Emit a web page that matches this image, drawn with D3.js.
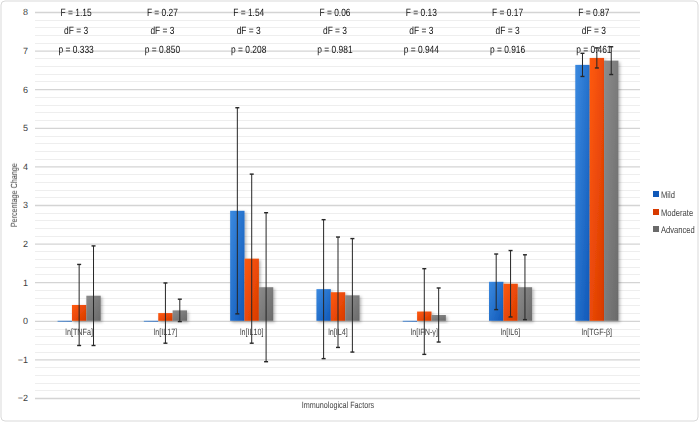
<!DOCTYPE html>
<html><head><meta charset="utf-8">
<script src="https://cdn.jsdelivr.net/npm/d3@7"></script>
<style>
html,body{margin:0;padding:0;background:#fff;}
svg{display:block;font-family:"Liberation Sans",Arial,sans-serif;}
text{text-rendering:geometricPrecision;}
</style></head><body>
<svg id="chart" width="700" height="424"></svg>
<script>
const categories = ["ln[TNFa]","ln[IL17]","ln[IL10]","ln[IL4]","ln[IFN-γ]","ln[IL6]","ln[TGF-β]"];
const seriesNames = ["Mild","Moderate","Advanced"];
const mild      = [0, 0, 2.85, 0.82, 0, 1.01, 6.63];
const moderate  = [0.41, 0.20, 1.61, 0.74, 0.24, 0.96, 6.81];
const advanced  = [0.65, 0.27, 0.87, 0.66, 0.15, 0.87, 6.74];
const mildErr     = [null, null, 2.67, 1.80, null, 0.72, 0.30];
const moderateErr = [1.05, 0.78, 2.19, 1.43, 1.11, 0.86, 0.26];
const advancedErr = [1.29, 0.29, 1.93, 1.47, 0.70, 0.84, 0.36];
const fValues  = ["1.15","0.27","1.54","0.06","0.13","0.17","0.87"];
const dfValues = ["3","3","3","3","3","3","3"];
const pValues  = ["0.333","0.850","0.208","0.981","0.944","0.916","0.461"];
const yTicks = [-2,-1,0,1,2,3,4,5,6,7,8];

const seriesValues = [mild, moderate, advanced];
const seriesErrs = [mildErr, moderateErr, advancedErr];
const colors = [["#3b8ae0","#1058b8"],["#ff5a10","#d83a00"],["#8c8c8c","#6a6a6a"]];

const svg = d3.select("#chart");
const pLeft = 36, pRight = 640, pTop = 12, pBottom = 398;
const SX = 0.8; // horizontal condensing to mimic a narrow font

function label(parent, x, yy, txt, size, anchor, fill, rot) {
  return parent.append("text")
    .attr("transform", `translate(${x},${yy})${rot ? " rotate(" + rot + ")" : ""} scale(${SX},1)`)
    .attr("text-anchor", anchor).attr("font-size", size).attr("fill", fill).text(txt);
}

// outer border
svg.append("rect").attr("x",1).attr("y",1).attr("width",697).attr("height",420)
  .attr("rx",4).attr("fill","#fff").attr("stroke","#d9d9d9").attr("stroke-width",1);

const defs = svg.append("defs");
colors.forEach((c,i)=>{
  const g = defs.append("linearGradient").attr("id","g"+i)
    .attr("x1","0").attr("y1","0").attr("x2","1").attr("y2","1");
  g.append("stop").attr("offset","0").attr("stop-color",c[0]);
  g.append("stop").attr("offset","1").attr("stop-color",c[1]);
});
const f = defs.append("filter").attr("id","sh").attr("x","-20%").attr("y","-20%").attr("width","160%").attr("height","160%");
f.append("feDropShadow").attr("dx",1.5).attr("dy",1.5).attr("stdDeviation",1.5).attr("flood-color","#000").attr("flood-opacity",0.3);

const y = d3.scaleLinear().domain([-2,8]).range([pBottom, pTop]);
const x0 = d3.scaleBand().domain(categories).range([pLeft, pRight]).paddingInner(0).paddingOuter(0);
const x1 = d3.scaleBand().domain(seriesNames).range([x0.bandwidth()/4, x0.bandwidth()*3/4]);

// minor gridlines
const minor = d3.range(-2, 8.001, 0.2).filter(v => Math.abs(v - Math.round(v)) > 1e-6);
svg.append("g").selectAll("line").data(minor).join("line")
  .attr("x1",pLeft-1).attr("x2",pRight).attr("y1",d=>Math.round(y(d))+0.5).attr("y2",d=>Math.round(y(d))+0.5)
  .attr("stroke","#eeeeee").attr("stroke-width",1);

// major axis via d3 axis
const yAxis = d3.axisLeft(y).tickValues(yTicks).tickSize(-(pRight-pLeft+1)).tickFormat(d3.format("d"));
const ga = svg.append("g").attr("transform",`translate(${pLeft-1},0)`).call(yAxis);
ga.select(".domain").remove();
ga.selectAll(".tick line").attr("stroke","#d4d4d4").attr("stroke-width",1.3);
ga.selectAll(".tick text").attr("x",-7).attr("fill","#404040").attr("font-size",9)
  .attr("font-family","'Liberation Sans',Arial,sans-serif");

// bars
const groups = svg.append("g").selectAll("g").data(categories).join("g")
  .attr("transform",d=>`translate(${x0(d)},0)`);
seriesNames.forEach((s,si)=>{
  groups.append("rect")
    .attr("x",x1(s)).attr("width",x1.bandwidth())
    .attr("y",(d,i)=>y(Math.max(0,seriesValues[si][i])))
    .attr("height",(d,i)=>Math.max(0.8, Math.abs(y(seriesValues[si][i])-y(0))))
    .attr("fill",`url(#g${si})`).attr("filter","url(#sh)");
});
// error bars
seriesNames.forEach((s,si)=>{
  groups.each(function(d,i){
    const e = seriesErrs[si][i];
    if (e == null) return;
    const v = seriesValues[si][i];
    const cx = x1(s) + x1.bandwidth()/2;
    const g = d3.select(this).append("g").attr("stroke","#262626").attr("stroke-width",1);
    g.append("line").attr("x1",cx).attr("x2",cx).attr("y1",y(v+e)).attr("y2",y(v-e));
    g.append("line").attr("x1",cx-2).attr("x2",cx+2).attr("y1",y(v+e)).attr("y2",y(v+e)).attr("stroke-width",1.4);
    g.append("line").attr("x1",cx-2).attr("x2",cx+2).attr("y1",y(v-e)).attr("y2",y(v-e)).attr("stroke-width",1.4);
  });
});

// text layer (grayscale antialiasing)
const txt = svg.append("g").attr("opacity",0.995);

// category labels
categories.forEach(c => label(txt, x0(c)+x0.bandwidth()/2, y(0)+14, c, 9, "middle", "#404040"));

// stats text
categories.forEach((c,i)=>{
  const cx = x0(c)+x0.bandwidth()/2 - 3;
  label(txt, cx, y(8)+4, "F = "+fValues[i], 10.5, "middle", "#111");
  label(txt, cx, y(7.53)+4, "dF = "+dfValues[i], 10.5, "middle", "#111");
  label(txt, cx, y(7.04)+4, "p = "+pValues[i], 10.5, "middle", "#111");
});

// axis titles
label(txt, 17, 195, "Percentage Change", 9, "middle", "#404040", -90);
label(txt, (pLeft+pRight)/2, 408, "Immunological Factors", 9, "middle", "#404040");

// legend
const legYs = [194,212,229];
seriesNames.forEach((s,i)=>{
  svg.append("rect").attr("x",653).attr("y",legYs[i]-3).attr("width",6).attr("height",6).attr("fill",colors[i][1]);
  label(txt, 661, legYs[i]+3.5, s, 9.5, "start", "#404040");
});
</script>
</body></html>
